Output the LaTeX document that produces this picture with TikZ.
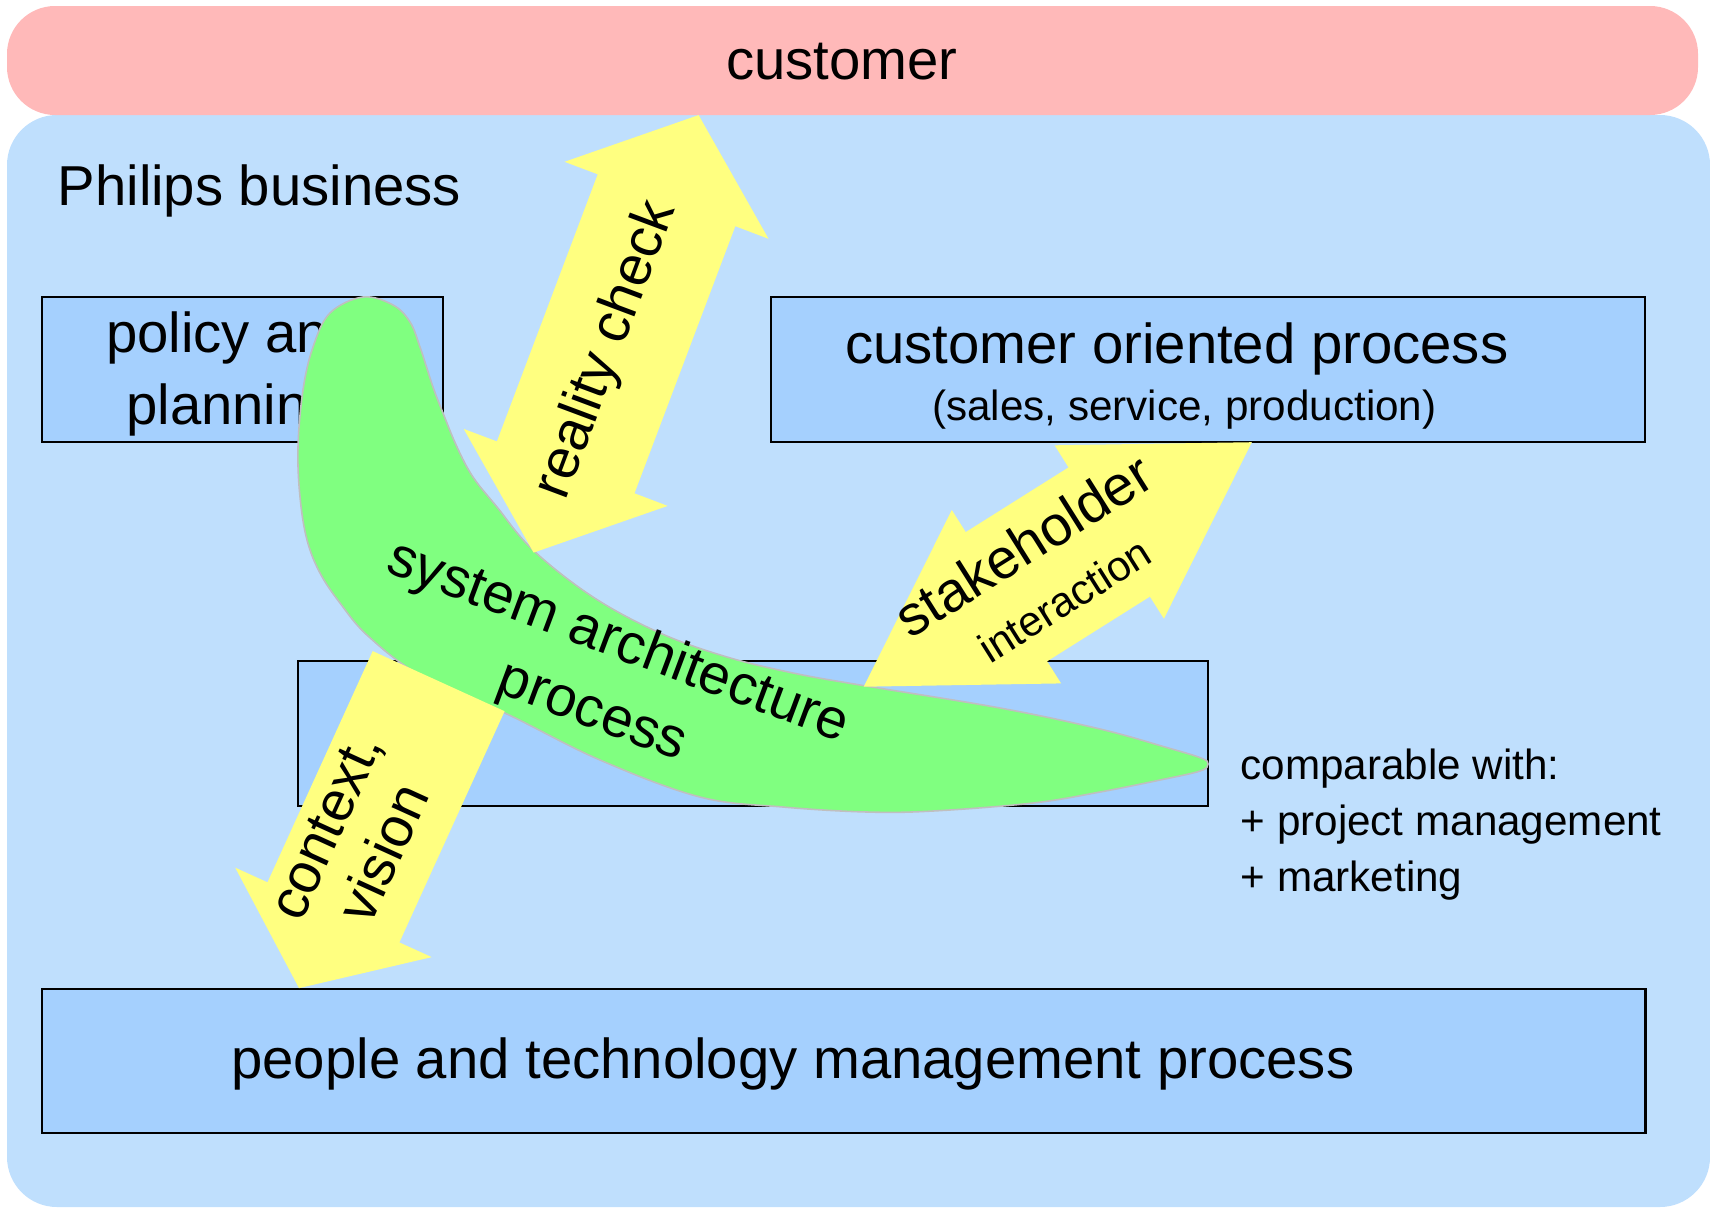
\documentclass[tikz,border=0pt]{standalone}
\usepackage{fontspec}
\setmainfont{Liberation Sans}
\usepackage{xcolor}
\usepackage{tikz}
\usetikzlibrary{positioning}

\definecolor{custpink}{RGB}{255,185,185}
\definecolor{bizblue}{RGB}{191,223,253}
\definecolor{procblue}{RGB}{165,208,254}
\definecolor{flowyellow}{RGB}{255,255,128}
\definecolor{sapgreen}{RGB}{128,255,128}

\tikzset{
	procbox/.style={draw=black, line width=0.6pt, fill=procblue, inner sep=0pt},
	bigtxt/.style={font=\fontsize{16}{20}\selectfont, inner sep=0pt},
	smalltxt/.style={font=\fontsize{12}{15.8}\selectfont, inner sep=0pt},
	flowarrow/.style={fill=flowyellow},
	sapshape/.style={fill=sapgreen, draw=black!25, line width=0.45pt}
}

\begin{document}
\begin{tikzpicture}[x=0.01cm, y=-0.01cm]
	\useasboundingbox (0,0) rectangle (1710,1209);
	\fill[bizblue, rounded corners=0.5cm] (7,115) rectangle (1710,1207);
	\fill[custpink, rounded corners=0.48cm] (7,6) rectangle (1698,115);

	\node[procbox, minimum width=4.005cm, minimum height=1.45cm] (policy) at (242.75,369.5) {};
	\node[procbox, minimum width=8.74cm, minimum height=1.45cm] (custproc) at (1208,369.5) {};
	\node[procbox, minimum width=9.1cm, minimum height=1.45cm] (sysarch) at (753,733.5) {};
	\node[procbox, minimum width=16.025cm, minimum height=1.44cm] (peopletech) at (843.75,1061) {};

	\node[bigtxt, anchor=base] (customer) at (842,79) {customer};
	\node[bigtxt, anchor=base west] (philips) at (57,205) {Philips business};
	\node[bigtxt, align=center, font=\fontsize{16}{20.5}\selectfont] (policytxt) at (232.7,373.7) {policy and\\planning};
	\node[bigtxt, anchor=base] (custproctxt) at (1176.8,363) {customer oriented process};
	\node[smalltxt, anchor=base] (custprocsub) at (1184.4,420) {(sales, service, production)};
	\node[bigtxt, anchor=base] (peopletechtxt) at (792.9,1078) {people and technology management process};
	\node[smalltxt, align=left, anchor=west] (compare) at (1240,824.6) {comparable with:\\+ project management\\+ marketing};

	\filldraw[sapshape] plot[smooth cycle, tension=0.6] coordinates {
		(363,297) (393,305) (410,322) (420,347) (433,387) (443,413) (457,447) (473,477)
		(497,507) (533,550) (593,597) (660,633) (727,657) (793,673) (860,685) (1000,708)
		(1100,729) (1165,747) (1201,758) (1208,764) (1200,771) (1160,780) (1100,792) (1033,803)
		(933,811) (867,812) (783,807) (700,797) (600,760) (507,714) (420,675) (368,636)
		(340,603) (320,573) (307,540) (300,497) (298,447) (303,390) (313,347) (330,313)};

	\fill[flowarrow] (698.6,115.1) -- (768.5,238.8) -- (735.3,226.2) -- (634.5,493.3) -- (667.7,505.9)
		-- (533.6,552.6) -- (463.7,428.9) -- (496.9,441.4) -- (597.7,174.3) -- (564.5,161.8) -- cycle;
	\fill[flowarrow] (1251.8,442.2) -- (1163.9,618.7) -- (1149.9,596.6) -- (1047.1,661.3) -- (1061.1,683.4)
		-- (863.7,686.7) -- (951.8,510.0) -- (965.7,532.1) -- (1068.5,467.4) -- (1054.6,445.3) -- cycle;
	\fill[flowarrow] (372.7,651.1) -- (504.6,711.2) -- (399.4,942.4) -- (431.7,957.1) -- (299.0,988.1)
		-- (235.2,867.6) -- (267.5,882.3) -- cycle;

	\node[bigtxt, rotate=69.5] (reality) at (606.7,350) {reality check};
	\node[bigtxt, rotate=32.2] (stakeholder) at (1023.3,544.9) {stakeholder};
	\node[smalltxt, rotate=32.2] (interaction) at (1064.4,599.9) {interaction};
	\node[bigtxt, rotate=65.5, align=center, font=\fontsize{16}{18.35}\selectfont] (context) at (355,840) {context,\\vision};
	\node[bigtxt, rotate=-20.5, align=center, font=\fontsize{16}{21}\selectfont] (sysarchtxt) at (605,678) {system architecture\\process};
\end{tikzpicture}
\end{document}
